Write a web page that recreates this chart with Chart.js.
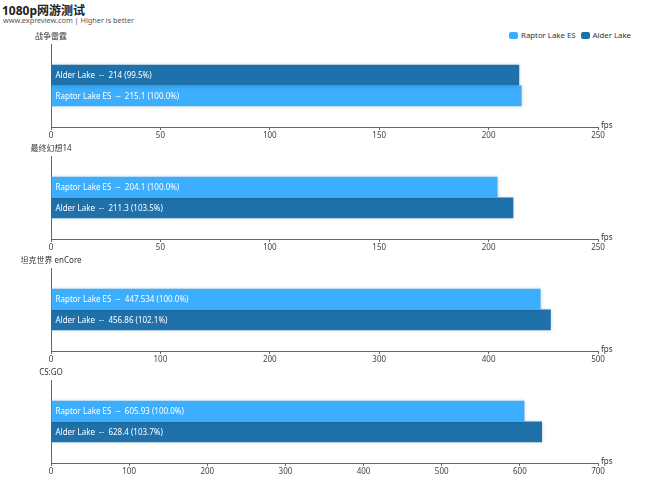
<!DOCTYPE html>
<html>
<head>
<meta charset="utf-8">
<script src="https://cdn.jsdelivr.net/npm/chart.js@4.4.1/dist/chart.umd.min.js"></script>
<style>
  html, body { margin: 0; padding: 0; background: #fff; }
  body { width: 650px; height: 499px; position: relative; overflow: hidden;
         font-family: 'Noto Sans', 'Noto Sans CJK SC', sans-serif; }
  #title { position: absolute; left: 2px; top: 1px; font-size: 12px; font-weight: bold; color: #222; }
  #subtitle { position: absolute; left: 3px; top: 15px; font-size: 7.3px; color: #555; }
  #legend { position: absolute; right: 19px; top: 30px; font-size: 7.8px; color: #333; display: flex; gap: 5px; }
  #legend span.item { display: flex; align-items: center; }
  #legend span.sw { display: inline-block; width: 9px; height: 7px; border-radius: 2px; margin-right: 3px; }
  .wrap { position: absolute; left: 0; width: 650px; height: 112px; }
</style>
</head>
<body>
<div id="title">1080p网游测试</div>
<div id="subtitle">www.expreview.com | Higher is better</div>
<div id="legend"></div>
<div id="charts"></div>
<script>
const games = ['战争雷霆', '最终幻想14', '坦克世界 enCore', 'CS:GO'];
const raptorFps = [215.1, 204.1, 447.534, 605.93];
const alderFps = [214, 211.3, 456.86, 628.4];
const axisMax = [250, 250, 500, 700];
const axisStep = [50, 50, 100, 100];
const seriesNames = ['Raptor Lake ES', 'Alder Lake'];
const seriesColors = ['#3CAEFD', '#1F71AC'];
const unitLabel = 'fps';

const FONT = "'Noto Sans', 'Noto Sans CJK SC', sans-serif";

// legend
const legendEl = document.getElementById('legend');
seriesNames.forEach((n, k) => {
  const it = document.createElement('span');
  it.className = 'item';
  it.innerHTML = '<span class="sw" style="background:' + seriesColors[k] + '"></span>' + n;
  legendEl.appendChild(it);
});

const shadowPlugin = {
  id: 'barShadow',
  beforeDatasetsDraw(chart) {
    const c = chart.ctx;
    c.save();
    c.shadowColor = 'rgba(0,0,0,0.18)';
    c.shadowBlur = 4;
  },
  afterDatasetsDraw(chart) {
    chart.ctx.restore();
  }
};

const textPlugin = {
  id: 'texts',
  afterDraw(chart) {
    const c = chart.ctx;
    const o = chart.options.plugins.texts;
    const xs = chart.scales.x, ys = chart.scales.y;
    c.save();
    // bar labels
    c.font = '8px ' + FONT;
    c.fillStyle = '#fff';
    c.textAlign = 'left';
    c.textBaseline = 'middle';
    chart.data.datasets.forEach((ds, di) => {
      const meta = chart.getDatasetMeta(di);
      meta.data.forEach((bar, j) => {
        const v = ds.data[j];
        const pct = (v / o.reference * 100).toFixed(1);
        c.fillText(ds.label + '  --  ' + v + ' (' + pct + '%)', bar.base + 4, bar.y + 0.5);
      });
    });
    // game name
    c.fillStyle = '#333';
    c.font = '8px ' + FONT;
    c.textAlign = 'center';
    c.fillText(o.game, ys.right, chart.chartArea.top - 7.5);
    // unit
    c.textAlign = 'left';
    c.fillText(o.unit, xs.right + 3, xs.top - 1);
    c.restore();
  }
};

const container = document.getElementById('charts');
games.forEach((game, i) => {
  const wrap = document.createElement('div');
  wrap.className = 'wrap';
  wrap.style.top = (30 + 112 * i) + 'px';
  const cv = document.createElement('canvas');
  wrap.appendChild(cv);
  container.appendChild(wrap);

  const entries = [
    { name: seriesNames[0], value: raptorFps[i], color: seriesColors[0] },
    { name: seriesNames[1], value: alderFps[i], color: seriesColors[1] }
  ].sort((a, b) => a.value - b.value);

  new Chart(cv, {
    type: 'bar',
    data: {
      labels: [game],
      datasets: entries.map(e => ({
        label: e.name,
        data: [e.value],
        backgroundColor: e.color,
        borderWidth: 0,
        categoryPercentage: 0.5,
        barPercentage: 1.0
      }))
    },
    options: {
      indexAxis: 'y',
      responsive: true,
      maintainAspectRatio: false,
      animation: false,
      events: [],
      layout: { padding: { top: 14, left: 51, right: 52, bottom: 0 } },
      plugins: {
        legend: { display: false },
        title: { display: false },
        tooltip: { enabled: false },
        texts: { game: game, unit: unitLabel, reference: raptorFps[i] }
      },
      scales: {
        x: {
          min: 0,
          max: axisMax[i],
          afterFit(s) { s.height = 15; },
          ticks: { stepSize: axisStep[i], padding: 1, color: '#444', font: { size: 8, family: FONT }, maxRotation: 0 },
          grid: { drawOnChartArea: false, drawTicks: true, tickLength: 3, color: '#666' },
          border: { display: true, color: '#666', width: 1 }
        },
        y: {
          afterFit(s) { s.width = 0; },
          ticks: { display: false },
          grid: { display: false, drawTicks: false },
          border: { display: true, color: '#666', width: 1 }
        }
      }
    },
    plugins: [shadowPlugin, textPlugin]
  });
});
</script>
</body>
</html>
